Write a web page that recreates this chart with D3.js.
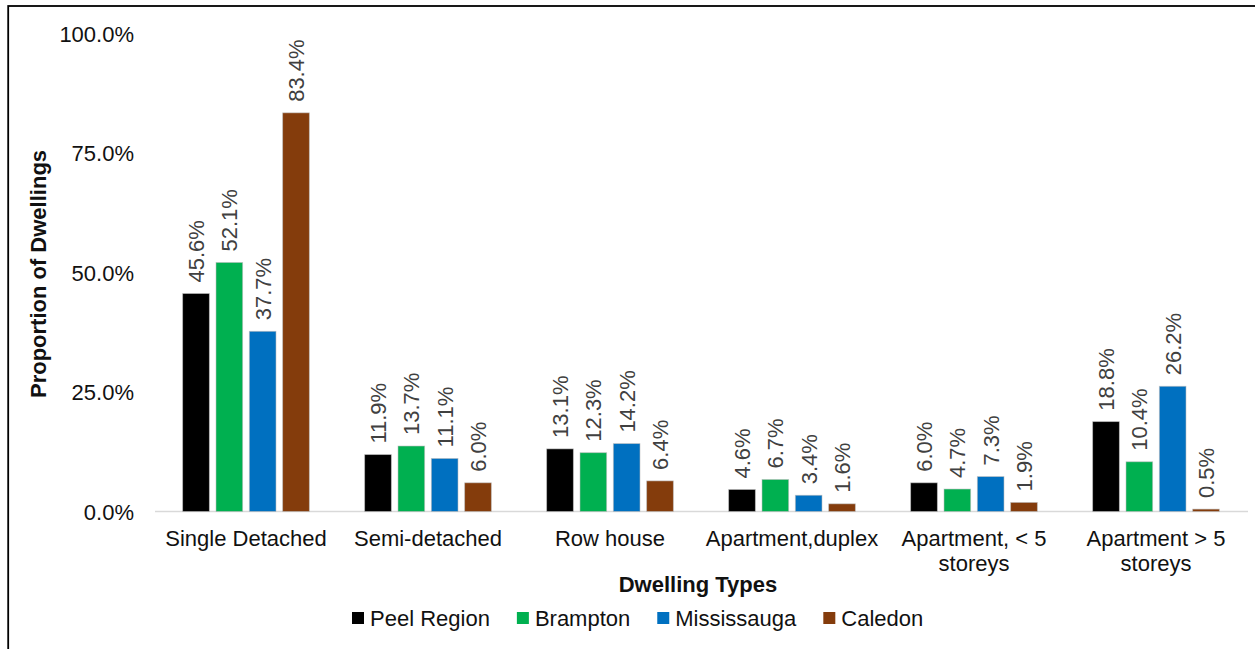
<!DOCTYPE html>
<html>
<head>
<meta charset="utf-8">
<script src="https://cdn.jsdelivr.net/npm/d3@7"></script>
<style>
  html, body { margin: 0; padding: 0; background: #fff; }
  svg { display: block; font-family: "Liberation Sans", Arial, sans-serif; }
</style>
</head>
<body>
<svg id="chart" width="1255" height="649"></svg>
<script>
// Dwelling types (x categories), each label split into lines
const categories = [
  ["Single Detached"],
  ["Semi-detached"],
  ["Row house"],
  ["Apartment,duplex"],
  ["Apartment, < 5", "storeys"],
  ["Apartment > 5", "storeys"]
];
const seriesNames = ["Peel Region", "Brampton", "Mississauga", "Caledon"];
const seriesColors = ["#000000", "#00B050", "#0070C0", "#843C0C"];

// Share of dwellings (%) per series, in category order
const peelRegion  = [45.6, 11.9, 13.1, 4.6, 6.0, 18.8];
const brampton    = [52.1, 13.7, 12.3, 6.7, 4.7, 10.4];
const mississauga = [37.7, 11.1, 14.2, 3.4, 7.3, 26.2];
const caledon     = [83.4, 6.0, 6.4, 1.6, 1.9, 0.5];
const seriesValues = [peelRegion, brampton, mississauga, caledon];

const yTicks = [0, 25, 50, 75, 100];

const svg = d3.select("#chart");
const fmt = d => d.toFixed(1) + "%";

// Outer frame of the chart area
svg.append("rect")
  .attr("x", 8.2).attr("y", 6)
  .attr("width", 1300).attr("height", 700)
  .attr("fill", "none").attr("stroke", "#000").attr("stroke-width", 1.8);

const catKeys = categories.map((c, i) => i);
const x0 = d3.scaleBand().domain(catKeys).range([155, 1247]).padding(0);
const groupHalf = 70;
const x1 = d3.scaleBand().domain(d3.range(seriesNames.length)).range([0, groupHalf * 2]).padding(0.2);
const y = d3.scaleLinear().domain([0, 100]).range([511.5, 33.5]);

// Y axis tick labels (no axis line or gridlines)
const yAxis = d3.axisLeft(y).tickValues(yTicks).tickFormat(fmt).tickSize(0).tickPadding(0);
const yg = svg.append("g").attr("transform", "translate(134,0)").call(yAxis);
yg.select(".domain").remove();
yg.selectAll("text")
  .attr("font-size", 22).attr("fill", "#111")
  .attr("font-family", "Liberation Sans, Arial, sans-serif")
  .attr("dy", "0.36em");

// Category baseline
svg.append("line")
  .attr("x1", 155).attr("x2", 1248)
  .attr("y1", y(0)).attr("y2", y(0))
  .attr("stroke", "#d9d9d9").attr("stroke-width", 1.5);

// Bars
const barData = [];
seriesValues.forEach((vals, s) => {
  vals.forEach((v, c) => barData.push({ s, c, v }));
});
const barX = d => x0(d.c) + x0.bandwidth() / 2 - groupHalf + x1(d.s);

svg.append("g").selectAll("rect")
  .data(barData).join("rect")
  .attr("x", barX)
  .attr("y", d => y(d.v))
  .attr("width", x1.bandwidth())
  .attr("height", d => y(0) - y(d.v))
  .attr("fill", d => seriesColors[d.s])
  .attr("stroke", "rgba(190,190,190,0.7)")
  .attr("stroke-width", 0.8);

// Value labels, rotated
svg.append("g").selectAll("text")
  .data(barData).join("text")
  .attr("transform", d => `translate(${barX(d) + x1.bandwidth() / 2},${y(d.v) - 11}) rotate(-90)`)
  .attr("dy", "0.36em")
  .attr("text-anchor", "start")
  .attr("font-size", 22)
  .attr("fill", "#404040")
  .text(d => fmt(d.v));

// Category labels
const xg = svg.append("g");
categories.forEach((lines, i) => {
  const t = xg.append("text")
    .attr("x", x0(i) + x0.bandwidth() / 2)
    .attr("y", 546)
    .attr("text-anchor", "middle")
    .attr("font-size", 22)
    .attr("fill", "#111");
  lines.forEach((ln, j) => {
    t.append("tspan")
      .attr("x", x0(i) + x0.bandwidth() / 2)
      .attr("dy", j === 0 ? 0 : 24.5)
      .text(ln);
  });
});

// Axis titles
svg.append("text")
  .attr("x", 698).attr("y", 592)
  .attr("text-anchor", "middle")
  .attr("font-size", 22).attr("font-weight", "bold").attr("fill", "#111")
  .text("Dwelling Types");

svg.append("text")
  .attr("transform", "translate(46,274) rotate(-90)")
  .attr("text-anchor", "middle")
  .attr("font-size", 22).attr("font-weight", "bold").attr("fill", "#111")
  .text("Proportion of Dwellings");

// Legend
const legend = svg.append("g");
let lx = 352;
seriesNames.forEach((name, i) => {
  legend.append("rect")
    .attr("x", lx).attr("y", 612)
    .attr("width", 12).attr("height", 12)
    .attr("fill", seriesColors[i]);
  const t = legend.append("text")
    .attr("x", lx + 18).attr("y", 625.5)
    .attr("font-size", 22).attr("fill", "#111")
    .text(name);
  lx += 18 + t.node().getComputedTextLength() + 27;
});
</script>
</body>
</html>
